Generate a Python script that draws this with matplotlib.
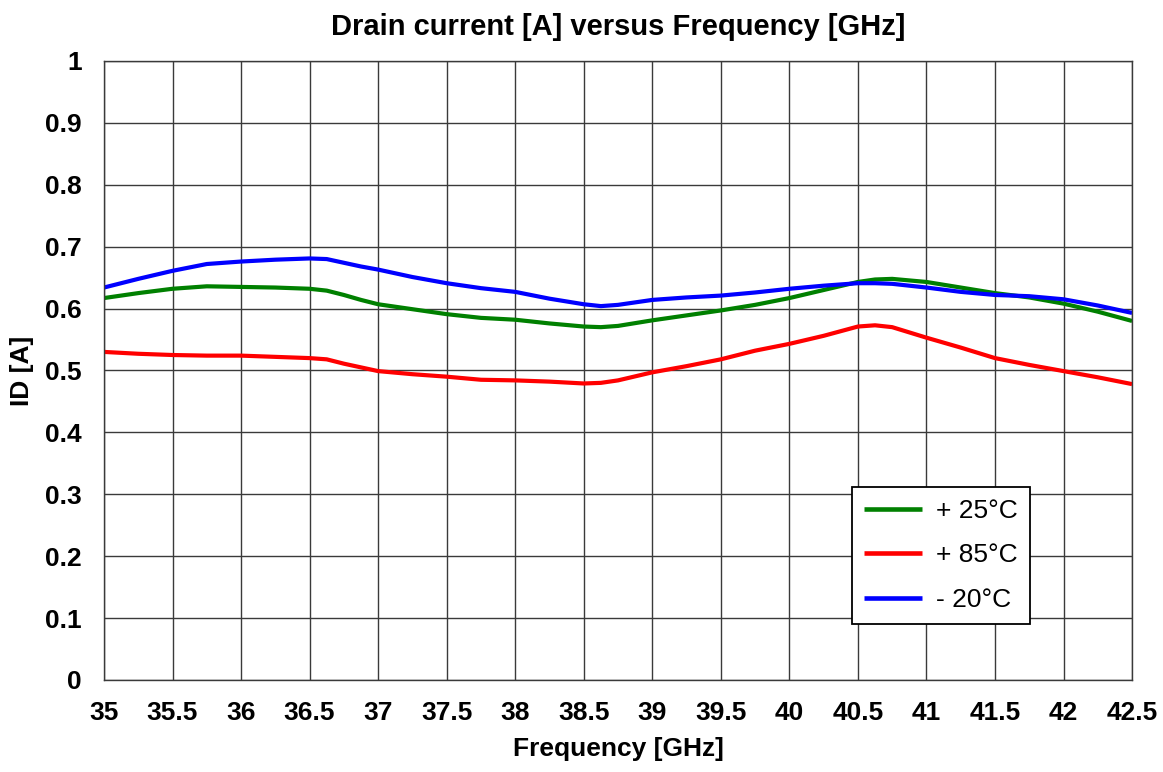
#!/usr/bin/env python
# -*- coding: utf-8 -*-

import numpy as np
import matplotlib
matplotlib.use('Agg')
import matplotlib.pyplot as plt

plt.rcParams['font.family'] = ['Liberation Sans', 'DejaVu Sans']

# frequency points [GHz] and drain current [A]
freq = [35.0, 35.25, 35.5, 35.75, 36.0, 36.25, 36.5, 36.625, 36.75, 36.875,
        37.0, 37.25, 37.5, 37.75, 38.0, 38.25, 38.5, 38.625, 38.75, 39.0,
        39.25, 39.5, 39.75, 40.0, 40.25, 40.5, 40.625, 40.75, 41.0, 41.25,
        41.5, 41.75, 42.0, 42.25, 42.5]

id_25 = [0.617, 0.625, 0.632, 0.636, 0.635, 0.634, 0.632, 0.629, 0.622, 0.614,
         0.607, 0.599, 0.591, 0.585, 0.582, 0.576, 0.571, 0.570, 0.572, 0.581,
         0.589, 0.597, 0.606, 0.617, 0.630, 0.643, 0.647, 0.648, 0.643, 0.634,
         0.625, 0.618, 0.608, 0.595, 0.580]

id_85 = [0.530, 0.527, 0.525, 0.524, 0.524, 0.522, 0.520, 0.518, 0.511, 0.505,
         0.499, 0.494, 0.490, 0.485, 0.484, 0.482, 0.479, 0.480, 0.484, 0.497,
         0.507, 0.518, 0.532, 0.543, 0.556, 0.571, 0.573, 0.570, 0.553, 0.537,
         0.520, 0.509, 0.499, 0.489, 0.478]

id_m20 = [0.634, 0.648, 0.661, 0.672, 0.676, 0.679, 0.681, 0.680, 0.674, 0.668,
          0.663, 0.651, 0.641, 0.633, 0.627, 0.616, 0.607, 0.604, 0.606, 0.614,
          0.618, 0.621, 0.626, 0.632, 0.637, 0.641, 0.641, 0.640, 0.634, 0.627,
          0.622, 0.620, 0.615, 0.605, 0.593]

labels = ['+ 25°C', '+ 85°C', '- 20°C']
colors = ['#008000', '#ff0000', '#0000ff']

xticks = np.arange(35, 42.51, 0.5)
yticks = np.arange(0, 1.01, 0.1)


#------------------------------------------------------
def tick_text(v):
    return f'{round(v, 2):g}'


fig = plt.figure(figsize=(11.63, 7.72), dpi=100)
ax = fig.add_axes([0.0894, 0.1192, 0.884, 0.8018])

for y, lab, c in zip([id_25, id_85, id_m20], labels, colors):
    ax.plot(freq, y, color=c, lw=3.0, label=lab,
            solid_joinstyle='round', solid_capstyle='butt')

ax.set_xlim(35, 42.5)
ax.set_ylim(0, 1)
ax.set_xticks(xticks)
ax.set_yticks(yticks)
ax.set_xticklabels([tick_text(v) for v in xticks], fontweight='bold', fontsize=19)
ax.set_yticklabels([tick_text(v) for v in yticks], fontweight='bold', fontsize=19)
ax.tick_params(axis='x', length=0, pad=15)
ax.tick_params(axis='y', length=0, pad=16)
ax.grid(True, color='#3a3a3a', lw=1.0)
for sp in ax.spines.values():
    sp.set_color('#3a3a3a')
    sp.set_linewidth(1.0)

ax.set_xlabel('Frequency [GHz]', fontweight='bold', fontsize=19, labelpad=9)
ax.set_ylabel('ID [A]', fontweight='bold', fontsize=19, labelpad=8)
ax.set_title('Drain current [A] versus Frequency [GHz]', fontweight='bold',
             fontsize=21, pad=19)

leg = ax.legend(loc='upper left', bbox_to_anchor=(852 / 1163, 1 - 487 / 772),
                bbox_transform=fig.transFigure, borderaxespad=0, fontsize=19,
                frameon=True, fancybox=False, borderpad=0.45, labelspacing=0.78,
                handlelength=2.2, handletextpad=0.55)
leg.get_frame().set_edgecolor('black')
leg.get_frame().set_linewidth(1.3)
leg.get_frame().set_alpha(None)
for ln in leg.get_lines():
    ln.set_linewidth(3.3)

plt.savefig('out.png', dpi=100)
